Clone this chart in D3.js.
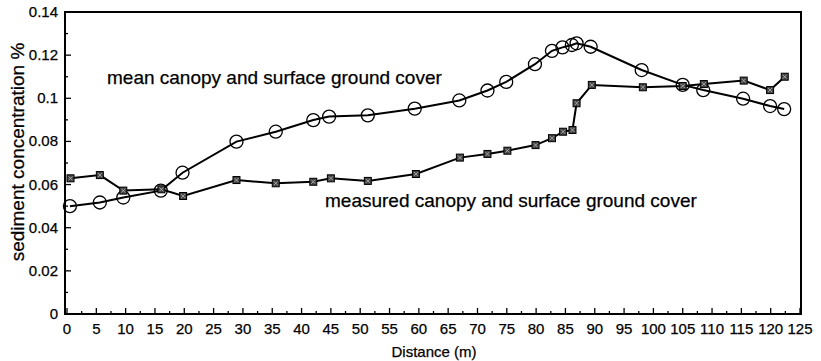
<!DOCTYPE html>
<html><head><meta charset="utf-8">
<script src="https://cdn.jsdelivr.net/npm/d3@7"></script>
<style>body{margin:0;background:#fff}svg{display:block}text{font-family:"Liberation Sans",Arial,sans-serif;fill:#000;stroke:#000;stroke-width:0.25px}</style>
</head><body>
<script>
const meanX = [0.5,5.6,9.6,16.0,19.7,28.9,35.6,42.0,44.7,51.3,59.3,66.9,71.7,74.9,79.8,82.7,84.5,86.1,86.9,89.3,98.0,105.0,108.5,115.3,119.9,122.3];
const meanY = [0.050,0.0517,0.054,0.0572,0.0655,0.0799,0.0845,0.0899,0.0915,0.0921,0.0952,0.0990,0.1036,0.1076,0.1158,0.1220,0.1236,0.1247,0.1255,0.1239,0.1131,0.1062,0.1038,0.0998,0.0964,0.0950];
const measX = [0.6,5.6,9.6,16.1,19.8,28.9,35.6,42.0,45.0,51.3,59.5,67.0,71.7,75.1,79.9,82.7,84.6,86.2,86.9,89.5,98.2,105.0,108.6,115.4,119.9,122.4];
const measY = [0.0629,0.0644,0.0572,0.0578,0.0547,0.0621,0.0606,0.0613,0.0629,0.0617,0.0649,0.0725,0.0742,0.0757,0.0783,0.0815,0.0845,0.0853,0.0977,0.1062,0.1051,0.1057,0.1066,0.1082,0.1038,0.1100];
const xTicks = d3.range(0,126,5);
const yTicks = [0,0.02,0.04,0.06,0.08,0.1,0.12,0.14];
const yTickLabels = ["0","0.02","0.04","0.06","0.08","0.1","0.12","0.14"];
const xTitle = "Distance (m)";
const yTitle = "sediment concentration %";
const meanLabel = "mean canopy and surface ground cover";
const measLabel = "measured canopy and surface ground cover";

const W=821,H=361;
const svg=d3.select("body").append("svg").attr("width",W).attr("height",H);
const x=d3.scaleLinear().domain([0,125]).range([67,800]);
const y=d3.scaleLinear().domain([0,0.14]).range([314,12]);
const L=65,R=801,T=12,B=314;

// ticks
const g=svg.append("g").attr("stroke","#000").attr("stroke-width",1.3);
d3.range(0,126,2.5).forEach(v=>{
  const major = Math.abs(v%5)<1e-9;
  g.append("line").attr("x1",x(v)).attr("x2",x(v)).attr("y1",B).attr("y2",B-(major?6:3));
});
d3.range(0,0.1401,0.01).forEach((v,i)=>{
  const major = i%2===0;
  g.append("line").attr("x1",L).attr("x2",L+(major?6:3)).attr("y1",y(v)).attr("y2",y(v));
});
// frame
svg.append("rect").attr("x",L).attr("y",T).attr("width",R-L).attr("height",B-T)
  .attr("fill","none").attr("stroke","#000").attr("stroke-width",2);

// tick labels
svg.append("g").selectAll("text").data(xTicks).join("text")
  .attr("x",d=>x(d)).attr("y",334).attr("text-anchor","middle").attr("font-size",15).text(d=>d);
svg.append("g").selectAll("text").data(yTicks).join("text")
  .attr("x",58).attr("y",d=>y(d)+5).attr("text-anchor","end").attr("font-size",15).text((d,i)=>yTickLabels[i]);

// titles
svg.append("text").attr("x",434).attr("y",357).attr("text-anchor","middle").attr("font-size",15).text(xTitle);
svg.append("text").attr("transform","translate(24,152) rotate(-90)").attr("text-anchor","middle").attr("font-size",19).text(yTitle);

// lines
const line=d3.line();
const meanPts=meanX.map((v,i)=>[x(v),y(meanY[i])]);
const measPts=measX.map((v,i)=>[x(v),y(measY[i])]);
svg.append("path").attr("d",line(meanPts)).attr("fill","none").attr("stroke","#000").attr("stroke-width",2);
svg.append("path").attr("d",line(measPts)).attr("fill","none").attr("stroke","#000").attr("stroke-width",2);

svg.append("g").selectAll("circle").data(meanPts).join("circle")
  .attr("cx",d=>d[0]).attr("cy",d=>d[1]).attr("r",6.5)
  .attr("fill","none").attr("stroke","#000").attr("stroke-width",1.3);

const sq=svg.append("g").selectAll("g").data(measPts).join("g").attr("transform",d=>`translate(${d[0]},${d[1]})`);
sq.append("rect").attr("x",-3.5).attr("y",-3.5).attr("width",7).attr("height",7).attr("fill","#444").attr("stroke","#000").attr("stroke-width",1);
sq.append("path").attr("d","M-2,-2L2,2M-2,2L2,-2").attr("stroke","#bbb").attr("stroke-width",0.8);

// annotations
svg.append("text").attr("x",107).attr("y",84).attr("font-size",19).text(meanLabel);
svg.append("text").attr("x",325).attr("y",207).attr("font-size",19).text(measLabel);
</script>
</body></html>
